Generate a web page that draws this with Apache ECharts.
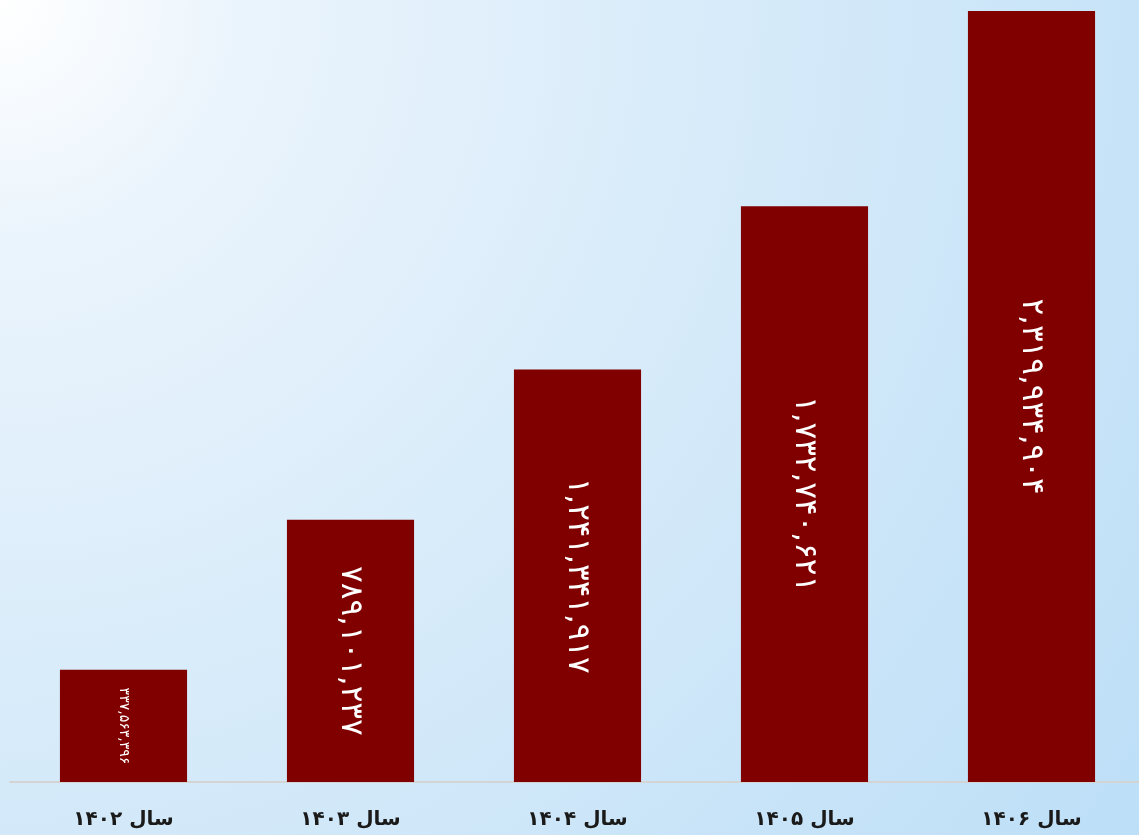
<!DOCTYPE html>
<html>
<head>
<meta charset="utf-8">
<script src="https://cdn.jsdelivr.net/npm/echarts@6/dist/echarts.min.js"></script>
<style>
  html, body { margin: 0; padding: 0; overflow: hidden; }
  body {
    width: 1139px; height: 835px;
    background: radial-gradient(circle at 0 0, #ffffff 0px, #eaf4fc 250px, #d3e9f9 830px, #c7e3f8 1139px, #bcdff7 1420px);
  }
  #chart { width: 1150px; height: 835px; }
</style>
</head>
<body>
<div id="chart"></div>
<script>
// Yearly totals (1402–1406)
const categories = ['سال ۱۴۰۲', 'سال ۱۴۰۳', 'سال ۱۴۰۴', 'سال ۱۴۰۵', 'سال ۱۴۰۶'];
const values = [337563396, 789101237, 1241341917, 1732740621, 2319934904];
const labelSizes = [14, 31, 31, 31, 31];

const faDigits = '۰۱۲۳۴۵۶۷۸۹';
function toPersian(n) {
  return n.toLocaleString('en-US').replace(/\d/g, d => faDigits[+d]);
}

const chart = echarts.init(document.getElementById('chart'), null, { renderer: 'canvas' });
chart.setOption({
  backgroundColor: 'transparent',
  animation: false,
  grid: { left: 10, right: 5, top: 11, bottom: 53, containLabel: false },
  xAxis: {
    type: 'category',
    data: categories,
    axisLine: { show: true, lineStyle: { color: '#d4d4d4', width: 2 } },
    axisTick: { show: false },
    axisLabel: {
      margin: 28,
      color: '#1a1a1a',
      fontSize: 20,
      fontWeight: 'bold',
      fontFamily: 'DejaVu Sans'
    }
  },
  yAxis: {
    type: 'value',
    min: 0,
    max: 'dataMax',
    show: false,
    splitLine: { show: false }
  },
  series: [{
    type: 'bar',
    barWidth: '56%',
    itemStyle: { color: '#800000' },
    data: values.map((v, i) => ({
      value: v,
      label: {
        show: true,
        position: 'inside',
        rotate: -90,
        color: '#ffffff',
        fontSize: labelSizes[i],
        fontFamily: 'DejaVu Sans',
        formatter: p => toPersian(p.value)
      }
    }))
  }]
});
</script>
</body>
</html>
